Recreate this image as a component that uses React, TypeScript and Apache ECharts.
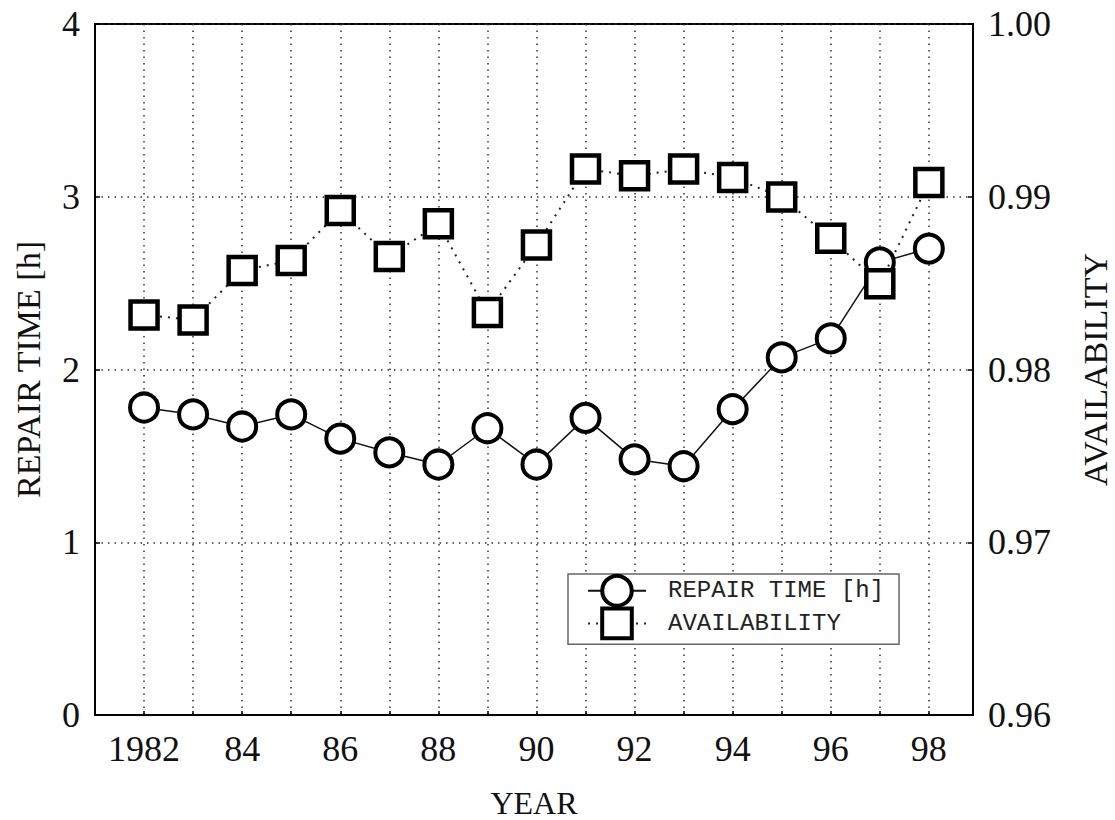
import React, { useEffect, useRef } from "react";
import * as echarts from "echarts";

// Years of observation
const years = [1982, 1983, 1984, 1985, 1986, 1987, 1988, 1989, 1990, 1991, 1992, 1993, 1994, 1995, 1996, 1997, 1998];

// Mean repair time per year [h]
const repairTime = [1.78, 1.74, 1.67, 1.74, 1.6, 1.52, 1.45, 1.66, 1.45, 1.72, 1.48, 1.44, 1.77, 2.07, 2.18, 2.62, 2.7];

// Availability per year
const availability = [
  0.98316, 0.98287, 0.98573, 0.98631, 0.9892, 0.98654, 0.98843, 0.9833, 0.98721,
  0.9916, 0.99121, 0.9916, 0.99111, 0.98998, 0.9876, 0.98496, 0.99082,
];

// Labelled year ticks on the x axis
const labelledYears = [1982, 1984, 1986, 1988, 1990, 1992, 1994, 1996, 1998];
const yearLabels = ["1982", "84", "86", "88", "90", "92", "94", "96", "98"];

const SERIF = "'Liberation Serif', 'Times New Roman', serif";
const MONO = "'Liberation Mono', 'DejaVu Sans Mono', monospace";

export default function App() {
  const ref = useRef<HTMLDivElement>(null);

  useEffect(() => {
    if (!ref.current) return;
    const chart = echarts.init(ref.current, null, { renderer: "svg" });

    const gridDots = { color: "#333", width: 1.5, type: [1.5, 5] as number[] };

    chart.setOption({
      animation: false,
      backgroundColor: "#fff",
      grid: {
        left: 95,
        right: 142,
        top: 24,
        bottom: 105,
        containLabel: false,
        outerBoundsMode: "none",
        show: true,
        borderColor: "#000",
        borderWidth: 2,
        backgroundColor: "transparent",
      },
      legend: {
        orient: "vertical",
        left: 568,
        top: 574,
        padding: [0, 15, 4, 19],
        itemWidth: 58,
        itemHeight: 37,
        itemGap: -1,
        borderColor: "#666",
        borderWidth: 1.5,
        backgroundColor: "#fff",
        itemStyle: { borderWidth: 4 },
        textStyle: {
          fontFamily: MONO,
          fontSize: 24,
          color: "#222",
          padding: [0, 0, 0, 17],
        },
        data: ["REPAIR TIME [h]", "AVAILABILITY"],
      },
      xAxis: {
        type: "value",
        min: 1981,
        max: 1998.9,
        interval: 1,
        name: "YEAR",
        nameLocation: "middle",
        nameGap: 72,
        nameTextStyle: { fontFamily: SERIF, fontSize: 32, color: "#111" },
        axisLine: { show: true, lineStyle: { color: "#000", width: 2 } },
        axisTick: { show: true, inside: true, length: 4, lineStyle: { color: "#000", width: 1.5 } },
        axisLabel: {
          fontFamily: SERIF,
          fontSize: 36,
          color: "#111",
          margin: 16,
          formatter: (v: number) => {
            const i = labelledYears.indexOf(v);
            return i >= 0 ? yearLabels[i] : "";
          },
        },
        splitLine: { show: true, lineStyle: gridDots },
      },
      yAxis: [
        {
          type: "value",
          min: 0,
          max: 4,
          interval: 1,
          name: "REPAIR TIME [h]",
          nameLocation: "middle",
          nameGap: 50,
          nameTextStyle: { fontFamily: SERIF, fontSize: 34, color: "#111" },
          axisLine: { show: true, lineStyle: { color: "#000", width: 2 } },
          axisTick: { show: true, inside: true, length: 5, lineStyle: { color: "#000", width: 1.5 } },
          axisLabel: { fontFamily: SERIF, fontSize: 36, color: "#111", margin: 15 },
          splitLine: { show: true, lineStyle: gridDots },
        },
        {
          type: "value",
          min: 0.96,
          max: 1.0,
          interval: 0.01,
          position: "right",
          name: "AVAILABILITY",
          nameLocation: "middle",
          nameGap: 105,
          nameTextStyle: { fontFamily: SERIF, fontSize: 34, color: "#111" },
          axisLine: { show: true, lineStyle: { color: "#000", width: 2 } },
          axisTick: { show: true, inside: true, length: 5, lineStyle: { color: "#000", width: 1.5 } },
          axisLabel: {
            fontFamily: SERIF,
            fontSize: 36,
            color: "#111",
            margin: 15,
            formatter: (v: number) => v.toFixed(2),
          },
          splitLine: { show: false },
        },
      ],
      series: [
        {
          name: "REPAIR TIME [h]",
          type: "line",
          yAxisIndex: 0,
          data: years.map((y, i) => [y, repairTime[i]]),
          symbol: "circle",
          symbolSize: 28,
          showAllSymbol: true,
          itemStyle: { color: "#fff", borderColor: "#000", borderWidth: 4 },
          lineStyle: { color: "#111", width: 1.5, type: "solid" },
          z: 2,
        },
        {
          name: "AVAILABILITY",
          type: "line",
          yAxisIndex: 1,
          data: years.map((y, i) => [y, availability[i]]),
          symbol: "rect",
          symbolSize: 27,
          showAllSymbol: true,
          itemStyle: { color: "#fff", borderColor: "#000", borderWidth: 4.5 },
          lineStyle: { color: "#222", width: 2, type: [2, 6] },
          z: 3,
        },
      ],
    });

    return () => chart.dispose();
  }, []);

  return (
    <div
      ref={ref}
      style={{ position: "fixed", left: 0, top: 0, width: 1115, height: 820, background: "#fff" }}
    />
  );
}
